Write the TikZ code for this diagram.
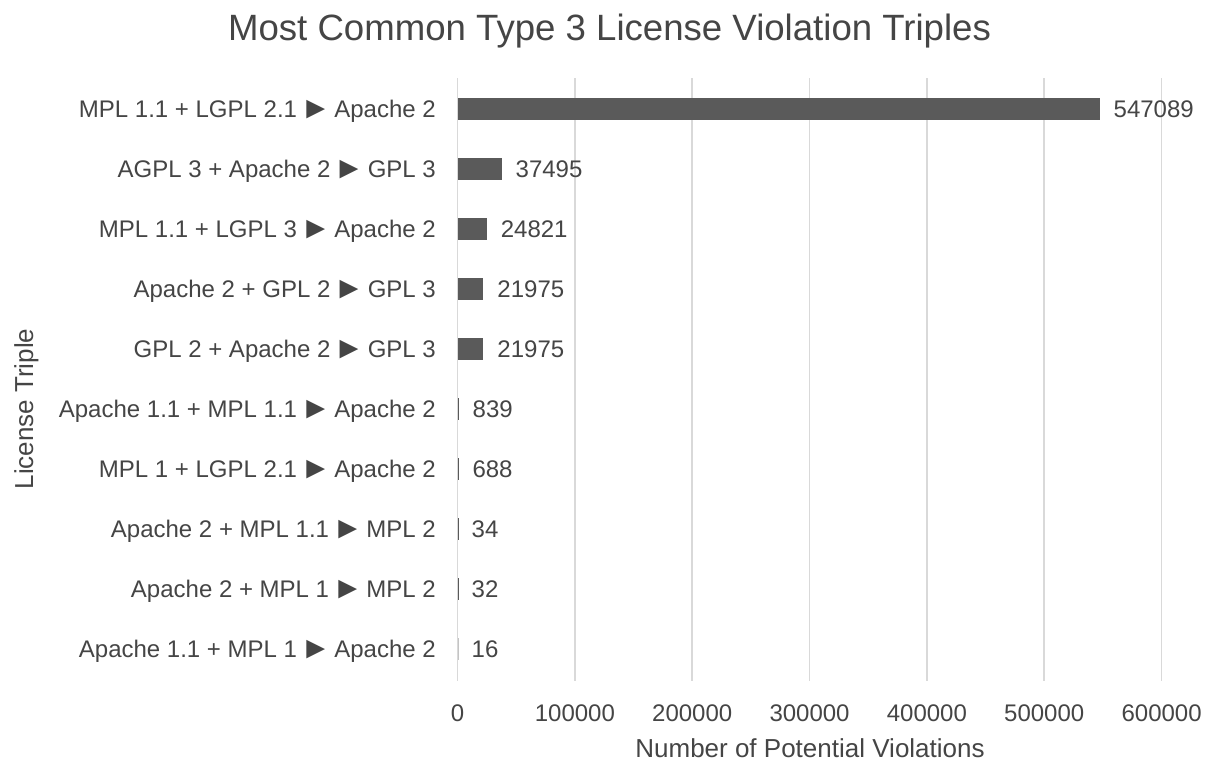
\documentclass[tikz,border=0pt]{standalone}
\usepackage{fontspec}
\setmainfont{Liberation Sans}
\definecolor{inkgray}{HTML}{454545}
\definecolor{barfill}{HTML}{5A5A5A}
\definecolor{gridgray}{HTML}{D9D9D9}
% enlarged pointer glyph used between the licence pair and the result
\newcommand\ptr{\makebox[1em]{\raisebox{-0.06em}{\scalebox{1.3}{►}}}}
\begin{document}
\begin{tikzpicture}[x=1pt,y=-1pt,
  txt/.style={text=inkgray, inner sep=0pt, font=\fontsize{24}{28}\selectfont},
  axtitle/.style={text=inkgray, inner sep=0pt, font=\fontsize{26}{30}\selectfont},
  charttitle/.style={text=inkgray, inner sep=0pt, font=\fontsize{36.6}{40}\selectfont},
  gridline/.style={draw=gridgray, line width=1.6pt},
  bar/.style={fill=barfill}]
\useasboundingbox (0,0) rectangle (1208,761);
\fill[white] (0,0) rectangle (1208,761);

% vertical grid lines and tick labels (117.35 units per 100000)
\foreach \k/\t in {0/0,1/100000,2/200000,3/300000,4/400000,5/500000,6/600000}{
  \pgfmathsetmacro\gx{457.5+\k*117.35}
  \draw[gridline] (\gx,78) -- (\gx,681);
  \node[txt, anchor=base] (tick\k) at (\gx,721) {\t};
}

% bars: index / category / value in thousands / printed value
\foreach \i/\lab/\v/\t in {
  0/MPL 1.1 + LGPL 2.1 \ptr{} Apache 2/547.089/547089,
  1/AGPL 3 + Apache 2 \ptr{} GPL 3/37.495/37495,
  2/MPL 1.1 + LGPL 3 \ptr{} Apache 2/24.821/24821,
  3/Apache 2 + GPL 2 \ptr{} GPL 3/21.975/21975,
  4/GPL 2 + Apache 2 \ptr{} GPL 3/21.975/21975,
  5/Apache 1.1 + MPL 1.1 \ptr{} Apache 2/0.839/839,
  6/MPL 1 + LGPL 2.1 \ptr{} Apache 2/0.688/688,
  7/Apache 2 + MPL 1.1 \ptr{} MPL 2/0.034/34,
  8/Apache 2 + MPL 1 \ptr{} MPL 2/0.032/32,
  9/Apache 1.1 + MPL 1 \ptr{} Apache 2/0.016/16}{
  \pgfmathsetmacro\yc{109+60*\i}
  \pgfmathsetmacro\xe{457.5+\v*1.1735}
  \fill[bar] (457.5,\yc-11) rectangle (\xe,\yc+11);
  \node[txt, anchor=base east] (cat\i) at (436,\yc+8.5) {\lab};
  \node[txt, anchor=base west] (val\i) at (\xe+14,\yc+8.5) {\t};
}

% titles
\node[charttitle, anchor=base] (title) at (609.5,40) {Most Common Type 3 License Violation Triples};
\node[axtitle, anchor=base] (xtitle) at (810,757) {Number of Potential Violations};
\node[axtitle, anchor=base, rotate=90] (ytitle) at (33,409) {License Triple};
\end{tikzpicture}
\end{document}
